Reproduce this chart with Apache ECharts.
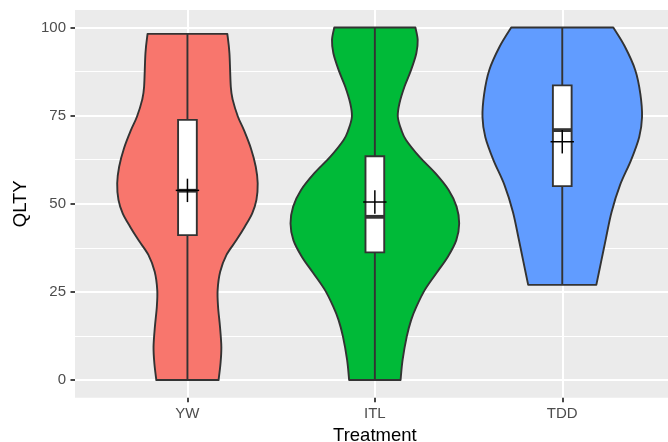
<!DOCTYPE html>
<html><head><meta charset="utf-8">
<script src="https://cdn.jsdelivr.net/npm/echarts@6/dist/echarts.min.js"></script>
<style>html,body{margin:0;padding:0;background:#fff}#chart{width:668px;height:442px}</style>
</head><body><div id="chart"></div>
<script>
const categories = ['YW', 'ITL', 'TDD'];
const fillColors = ['#F8766D', '#00BA38', '#619CFF'];
const yTickValues = [0, 25, 50, 75, 100];
const yMinorValues = [12.5, 37.5, 62.5, 87.5];

// violin outlines: QLTY levels and relative width (1 = widest violin)
const ywLevels  = [0, 4.7, 9.4, 15.1, 20.8, 25.5, 30.7, 35.5, 39.7, 43.5, 47.3, 51.1, 55.8, 60.5, 65.7, 70.9, 74.7, 79.4, 83.2, 92.7, 98.2];
const ywWidths  = [0.369, 0.392, 0.402, 0.386, 0.363, 0.358, 0.388, 0.463, 0.581, 0.68, 0.768, 0.818, 0.833, 0.81, 0.753, 0.67, 0.599, 0.538, 0.514, 0.498, 0.473];
const itlLevels = [0, 5.7, 12.3, 17, 20.8, 25.5, 30.3, 35, 39.7, 44.4, 49.2, 53.9, 58.6, 63.3, 68.1, 70.9, 74.7, 78.5, 83.2, 87.9, 92.7, 96.5, 100];
const itlWidths = [0.305, 0.329, 0.378, 0.43, 0.493, 0.591, 0.729, 0.866, 0.966, 1.0, 0.969, 0.875, 0.72, 0.53, 0.37, 0.315, 0.272, 0.292, 0.351, 0.429, 0.492, 0.508, 0.481];
const tddLevels = [27, 33.6, 40.2, 47.7, 55.3, 62.4, 68.9, 74.6, 81.2, 87.9, 94.6, 100];
const tddWidths = [0.404, 0.461, 0.518, 0.585, 0.685, 0.816, 0.912, 0.946, 0.926, 0.866, 0.742, 0.605];

// box plot statistics
const boxMin    = [0, 0, 27];
const boxQ1     = [41.1, 36.2, 55.0];
const boxMedian = [53.7, 46.3, 70.9];
const boxQ3     = [73.8, 63.5, 83.6];
const boxMax    = [98.2, 100, 100];
const groupMeans = [53.8, 50.5, 67.6];

const violinLevels = [ywLevels, itlLevels, tddLevels];
const violinWidths = [ywWidths, itlWidths, tddWidths];
const VIOLIN_HALF = 0.45;
const BOX_HALF = 0.05;

function spline(pts) {
  let d = '';
  for (let i = 0; i < pts.length - 1; i++) {
    const p0 = pts[Math.max(i - 1, 0)], p1 = pts[i], p2 = pts[i + 1], p3 = pts[Math.min(i + 2, pts.length - 1)];
    const c1 = [p1[0] + (p2[0] - p0[0]) / 6, p1[1] + (p2[1] - p0[1]) / 6];
    const c2 = [p2[0] - (p3[0] - p1[0]) / 6, p2[1] - (p3[1] - p1[1]) / 6];
    d += ' C' + c1[0] + ',' + c1[1] + ' ' + c2[0] + ',' + c2[1] + ' ' + p2[0] + ',' + p2[1];
  }
  return d;
}

const font = "'Liberation Sans', Arial, Helvetica, sans-serif";
const chart = echarts.init(document.getElementById('chart'), null, {renderer: 'canvas'});

chart.setOption({
  animation: false,
  backgroundColor: '#ffffff',
  grid: {left: 75, top: 9.9, width: 599.7, height: 387.75, show: true, backgroundColor: '#EBEBEB', borderWidth: 0, containLabel: false, outerBoundsMode: 'none'},
  xAxis: {
    type: 'value', min: 0.4, max: 3.6,
    axisLine: {show: false, onZero: false},
    axisTick: {show: true, length: 4.5, lineStyle: {color: '#333333', width: 1.8}, customValues: [1, 2, 3]},
    axisLabel: {customValues: [1, 2, 3], formatter: v => categories[Math.round(v) - 1], color: '#4D4D4D', fontSize: 15, fontFamily: font, margin: 9},
    splitLine: {show: true, lineStyle: {color: '#ffffff', width: 2}},
    name: 'Treatment', nameLocation: 'middle', nameGap: 29,
    nameTextStyle: {color: '#000000', fontSize: 18.5, fontFamily: font}
  },
  yAxis: [{
    type: 'value', min: -5, max: 105,
    axisLine: {show: false, onZero: false},
    axisTick: {show: true, length: 4.5, lineStyle: {color: '#333333', width: 1.8}, customValues: yTickValues},
    axisLabel: {customValues: yTickValues, color: '#4D4D4D', fontSize: 15, fontFamily: font, margin: 9},
    splitLine: {show: true, lineStyle: {color: '#ffffff', width: 2}},
    name: 'QLTY', nameLocation: 'middle', nameGap: 42,
    nameTextStyle: {color: '#000000', fontSize: 18.5, fontFamily: font}
  }, {
    type: 'value', min: -5, max: 105, position: 'left',
    axisLine: {show: false, onZero: false},
    axisTick: {show: false, customValues: yMinorValues},
    axisLabel: {show: false, customValues: yMinorValues},
    splitLine: {show: true, lineStyle: {color: '#ffffff', width: 1}}
  }],
  series: [{
    type: 'custom',
    name: 'violin',
    xAxisIndex: 0, yAxisIndex: 0,
    data: categories.map((c, i) => [i + 1, boxMedian[i]]),
    clip: false,
    renderItem: function (params, api) {
      const i = params.dataIndex;
      const cx = api.value(0);
      const lv = violinLevels[i], wd = violinWidths[i];
      const right = lv.map((v, k) => api.coord([cx + wd[k] * VIOLIN_HALF, v]));
      const left = lv.map((v, k) => api.coord([cx - wd[k] * VIOLIN_HALF, v])).reverse();
      const d = 'M' + right[0][0] + ',' + right[0][1] + spline(right) +
        ' L' + left[0][0] + ',' + left[0][1] + spline(left) + ' Z';
      const wTop = api.coord([cx, boxMax[i]]), wQ3 = api.coord([cx, boxQ3[i]]);
      const wQ1 = api.coord([cx, boxQ1[i]]), wBot = api.coord([cx, boxMin[i]]);
      const bl = api.coord([cx - BOX_HALF, boxQ3[i]]), br = api.coord([cx + BOX_HALF, boxQ1[i]]);
      const medL = api.coord([cx - BOX_HALF, boxMedian[i]]), medR = api.coord([cx + BOX_HALF, boxMedian[i]]);
      const m = api.coord([cx, groupMeans[i]]);
      const arm = 11.7;
      return {
        type: 'group',
        children: [
          {type: 'path', shape: {pathData: d}, style: {fill: fillColors[i], stroke: '#333333', lineWidth: 1.9, lineJoin: 'round'}},
          {type: 'line', shape: {x1: wTop[0], y1: wTop[1], x2: wQ3[0], y2: wQ3[1]}, style: {stroke: '#333333', lineWidth: 1.9}},
          {type: 'line', shape: {x1: wQ1[0], y1: wQ1[1], x2: wBot[0], y2: wBot[1]}, style: {stroke: '#333333', lineWidth: 1.9}},
          {type: 'rect', shape: {x: bl[0], y: bl[1], width: br[0] - bl[0], height: br[1] - bl[1]}, style: {fill: '#ffffff', stroke: '#333333', lineWidth: 1.9}},
          {type: 'line', shape: {x1: medL[0], y1: medL[1], x2: medR[0], y2: medR[1]}, style: {stroke: '#333333', lineWidth: 3.8}},
          {type: 'line', shape: {x1: m[0] - arm, y1: m[1], x2: m[0] + arm, y2: m[1]}, style: {stroke: '#000000', lineWidth: 1.5}},
          {type: 'line', shape: {x1: m[0], y1: m[1] - arm, x2: m[0], y2: m[1] + arm}, style: {stroke: '#000000', lineWidth: 1.5}}
        ]
      };
    }
  }]
});
</script>
</body></html>
